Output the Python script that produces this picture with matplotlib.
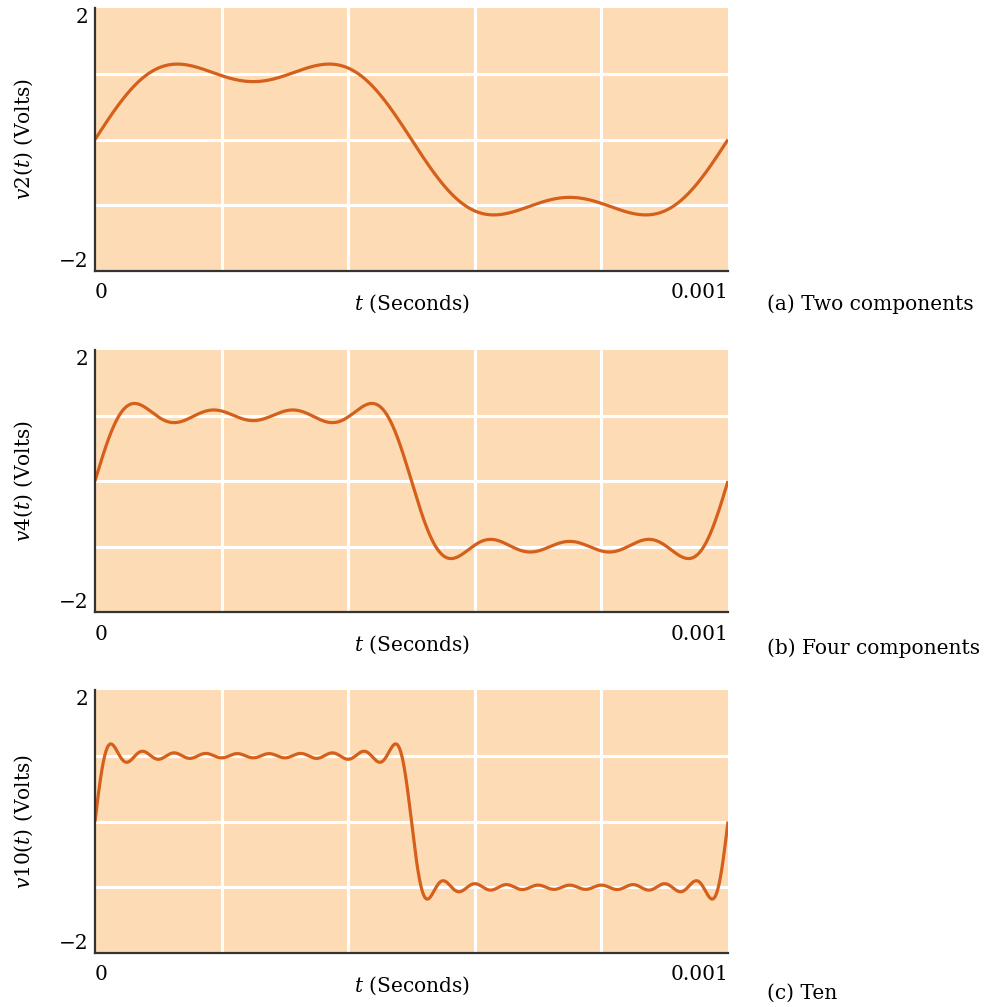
import numpy as np
import matplotlib
matplotlib.use("Agg")
import matplotlib.pyplot as plt

plt.rcParams['font.family'] = ['DejaVu Serif']
plt.rcParams['mathtext.fontset'] = 'dejavuserif'

# ---- data: harmonic numbers and amplitudes (volts) of each partial sum ----
period = 0.001
harmonics_a = [1, 3]
amplitudes_a = [1.25, 0.37]
harmonics_b = [1, 3, 5, 7]
amplitudes_b = [1.273, 0.424, 0.255, 0.182]
harmonics_c = [1, 3, 5, 7, 9, 11, 13, 15, 17, 19]
amplitudes_c = [1.273, 0.424, 0.255, 0.182, 0.141, 0.116, 0.098, 0.085, 0.075, 0.067]

ylabels = [r'$v$2($t$) (Volts)', r'$v$4($t$) (Volts)', r'$v$10($t$) (Volts)']
captions = ['(a) Two components', '(b) Four components', '(c) Ten']
xtick_labels = ['0', '0.001']
ytick_labels = ['\u22122', '2']

t = np.linspace(0, period, 2000)

def partial_sum(harm, amp):
    v = np.zeros_like(t)
    for n, a in zip(harm, amp):
        v += a * np.sin(2 * np.pi * n * t / period)
    return v

series = [partial_sum(harmonics_a, amplitudes_a),
          partial_sum(harmonics_b, amplitudes_b),
          partial_sum(harmonics_c, amplitudes_c)]

W, H = 984, 1007
fig = plt.figure(figsize=(W / 100, H / 100), dpi=100)

bg = '#FDDCB5'
line_col = '#D4601C'
tops = [8, 350, 690]
bottoms = [271, 612, 953]
caption_y = [304, 648, 993]
left, right = 95, 728
fs = 14.5

for i in range(3):
    ax = fig.add_axes([left / W, 1 - bottoms[i] / H, (right - left) / W, (bottoms[i] - tops[i]) / H])
    ax.set_facecolor(bg)
    ax.set_xlim(0, period)
    ax.set_ylim(-2, 2)
    for xv in np.arange(1, 5) * period / 5:
        ax.axvline(xv, color='white', lw=2.2, zorder=1)
    for yv in [-1, 0, 1]:
        ax.axhline(yv, color='white', lw=2.2, zorder=1)
    ax.plot(t, series[i], color=line_col, lw=2.3, zorder=3, solid_capstyle='butt')
    for s in ['top', 'right']:
        ax.spines[s].set_visible(False)
    for s in ['left', 'bottom']:
        ax.spines[s].set_color('#333333')
        ax.spines[s].set_linewidth(1.6)
        ax.spines[s].set_zorder(4)
    ax.set_xticks([0, period])
    ax.set_xticklabels(xtick_labels, fontsize=fs)
    ax.set_yticks([-2, 2])
    ax.set_yticklabels(ytick_labels, fontsize=fs)
    ax.tick_params(axis='x', length=0, pad=9)
    ax.tick_params(axis='y', length=0, pad=5)
    xl = ax.get_xticklabels()
    xl[0].set_ha('left')
    xl[1].set_ha('right')
    yl = ax.get_yticklabels()
    yl[0].set_va('bottom')
    yl[1].set_va('top')
    ax.set_xlabel(r'$t$ (Seconds)', fontsize=fs, labelpad=-7)
    ax.set_ylabel(ylabels[i], fontsize=fs, labelpad=17)
    fig.text(767 / W, 1 - caption_y[i] / H, captions[i], fontsize=fs, ha='left', va='center')

fig.savefig('out.png', dpi=100, facecolor='white')
